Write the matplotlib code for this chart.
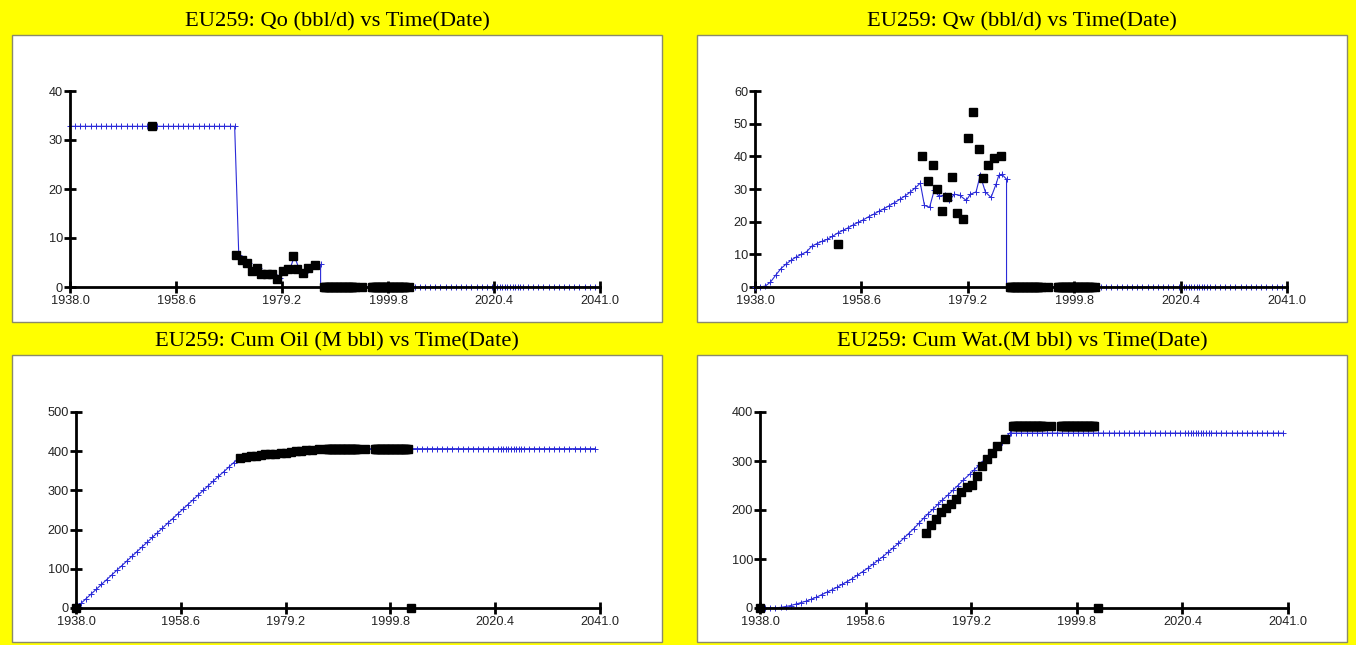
import numpy as np
import matplotlib
matplotlib.use("Agg")
import matplotlib.pyplot as plt
from matplotlib.patches import Rectangle

# ---- data ----------------------------------------------------------------
# model (blue) time steps
years_hist = list(range(1938, 1971))
years_late = [1970.8, 1971.8, 1972.7, 1973.6, 1974.7, 1975.6, 1976.6, 1977.6, 1978.9,
              1979.7, 1980.8, 1981.6, 1982.6, 1983.7, 1984.7, 1985.2, 1985.8, 1986.7]
years_tail = sorted([1986.7, 1987.0] + list(range(1988, 2041)) +
                    [2021.5, 2022.5, 2023.5, 2024.5, 2025.5])
t_model = years_hist + years_late + years_tail
n_tail = len(years_tail)

qo_model = [32.8] * 33 + [6.5, 5.4, 4.8, 3.4, 3.8, 2.6, 2.6, 2.6, 1.8,
                          3.3, 3.8, 6.3, 3.5, 2.8, 3.9, 4.3, 4.6, 4.6] + [0.0] * n_tail
qw_model = [0, 0, 0.3, 1.5, 3.6, 5.6, 7.0, 8.2, 9.2, 10.0, 10.8, 12.5, 13.3, 14.0, 14.6,
            15.5, 16.5, 17.3, 18.1, 19.0, 19.8, 20.6, 21.5, 22.3, 23.2, 24.0, 24.9, 25.8,
            26.8, 27.8, 29.0, 30.3, 31.8] + \
           [25.0, 24.4, 29.6, 27.8, 28.1, 26.5, 28.4, 28.1, 26.5,
            28.4, 29.1, 34.2, 29.1, 27.4, 31.6, 34.2, 34.5, 33.0] + [0.0] * n_tail
cumo_model = [0, 12, 24, 36, 48, 60, 72, 84, 96, 108, 120, 132, 144, 156, 168, 180, 192,
              204, 216, 228, 240, 252, 264, 276, 288, 300, 312, 324, 336, 347, 359, 371, 383] + \
             [385.5, 387.5, 389.2, 390.5, 392, 393, 394, 395, 396,
              397, 398.5, 400, 401.5, 402.8, 404.2, 405, 406, 406.5] + [406.5] * n_tail
cumw_model = [0, 0, 0.1, 0.4, 1.3, 3, 5, 8, 11, 14, 18, 22, 27, 32, 37, 42, 48, 54, 60, 67,
              74, 81, 89, 97, 105, 114, 123, 132, 142, 152, 162, 173, 184] + \
             [192.5, 202, 211.5, 220.5, 231, 240, 250, 260.5, 273,
              281, 292, 301, 312, 323, 333.5, 339.5, 346.5, 357] + [357] * n_tail

# observed (black squares)
obs_mid = [1970.3, 1971.4, 1972.4, 1973.3, 1974.3, 1975.2, 1976.2, 1977.2, 1978.3,
           1979.3, 1980.3, 1981.3, 1982.2, 1983.2, 1984.3, 1985.7]
obs_tail = [1987.3, 1987.55, 1987.8, 1988.05, 1988.3, 1988.55, 1988.8, 1989.05, 1989.3,
            1989.55, 1989.8, 1990.05, 1990.3, 1990.55, 1990.8, 1991.05, 1991.3, 1991.55,
            1991.8, 1992.05, 1992.3, 1992.55, 1992.8, 1993.05, 1993.3, 1994.8,
            1996.7, 1996.95, 1997.2, 1997.45, 1997.7, 1997.95, 1998.2, 1998.45, 1998.7,
            1998.95, 1999.2, 1999.45, 1999.7, 1999.95, 2000.2, 2000.45, 2000.7, 2000.95,
            2001.2, 2001.45, 2001.7, 2001.95, 2002.2, 2002.45, 2002.7, 2002.95, 2003.2]
obs_last = 2003.9
n_obs_tail = len(obs_tail)

qo_obs_mid = [6.5, 5.5, 5.0, 3.3, 3.8, 2.6, 2.6, 2.7, 1.7, 3.3, 3.7, 6.3, 3.6, 2.8, 3.9, 4.5]
qw_obs_mid = [40.1, 32.4, 37.5, 30.1, 23.3, 27.6, 33.7, 22.7, 20.8,
              45.7, 53.6, 42.1, 33.5, 37.2, 39.5, 40.1]
cumo_obs_mid = [383, 385, 387, 389, 390.5, 392, 393, 394, 395,
                396, 397.5, 399.5, 401, 402.5, 404, 406]
cumw_obs_mid = [154, 169, 181, 195, 205, 213, 223, 237, 246,
                252, 269, 289, 305, 316, 330, 344]

rate_obs_t = [1954.0] + obs_mid + obs_tail + [obs_last]
cum_obs_t = [1938.0] + obs_mid + obs_tail + [obs_last]
qo_obs = [32.8] + qo_obs_mid + [0.0] * n_obs_tail + [0.0]
qw_obs = [13.2] + qw_obs_mid + [0.0] * n_obs_tail + [0.0]
cumo_obs = [0.0] + cumo_obs_mid + [406.5] * n_obs_tail + [0.0]
cumw_obs = [0.0] + cumw_obs_mid + [372] * n_obs_tail + [0.0]

xticks = [1938.0, 1958.6, 1979.2, 1999.8, 2020.4, 2041.0]

W, H = 1356, 645
BLUE = '#2a2ad8'

fig = plt.figure(figsize=(W / 100, H / 100), dpi=100, facecolor='#ffff00')


def px_box(x0, y0, x1, y1):
    return [x0 / W, 1 - y1 / H, (x1 - x0) / W, (y1 - y0) / H]


panels = [
    dict(title='EU259: Qo (bbl/d) vs Time(Date)', box=(12, 35, 662, 322),
         ax=(70, 91, 600, 287), t_obs=rate_obs_t, obs=qo_obs, mod=qo_model,
         ylim=40, yticks=[0, 10, 20, 30, 40]),
    dict(title='EU259: Qw (bbl/d) vs Time(Date)', box=(697, 35, 1347, 322),
         ax=(755, 91, 1287, 287), t_obs=rate_obs_t, obs=qw_obs, mod=qw_model,
         ylim=60, yticks=[0, 10, 20, 30, 40, 50, 60]),
    dict(title='EU259: Cum Oil (M bbl) vs Time(Date)', box=(12, 355, 662, 642),
         ax=(76, 412, 600, 608), t_obs=cum_obs_t, obs=cumo_obs, mod=cumo_model,
         ylim=500, yticks=[0, 100, 200, 300, 400, 500]),
    dict(title='EU259: Cum Wat.(M bbl) vs Time(Date)', box=(697, 355, 1347, 642),
         ax=(760, 412, 1288, 608), t_obs=cum_obs_t, obs=cumw_obs, mod=cumw_model,
         ylim=400, yticks=[0, 100, 200, 300, 400]),
]

for p in panels:
    bx = px_box(*p['box'])
    fig.add_artist(Rectangle((bx[0], bx[1]), bx[2], bx[3], transform=fig.transFigure,
                             facecolor='white', edgecolor='#8a8a6a', linewidth=1,
                             zorder=-5))
    fig.text(bx[0] + bx[2] / 2, 1 - (p['box'][1] - 13) / H, p['title'],
             ha='center', va='center', fontsize=16.2, family='Liberation Serif')

    ax = fig.add_axes(px_box(*p['ax']))
    ax.set_facecolor('none')
    ax.plot(t_model, p['mod'], color=BLUE, lw=0.8, marker='+', ms=4, mew=0.7,
            clip_on=False, zorder=3)
    ax.plot(p['t_obs'], p['obs'], ls='none', marker='s', ms=5.2, color='black',
            clip_on=False, zorder=4)
    ax.set_xlim(1938, 2041)
    ax.set_ylim(0, p['ylim'])
    ax.set_xticks(xticks)
    ax.set_xticklabels([f'{v:.1f}' for v in xticks])
    ax.set_yticks(p['yticks'])
    for s in ['top', 'right']:
        ax.spines[s].set_visible(False)
    for s in ['left', 'bottom']:
        ax.spines[s].set_linewidth(2)
        ax.spines[s].set_zorder(5)
    ax.tick_params(axis='x', direction='inout', length=9, width=2, pad=1)
    ax.tick_params(axis='y', direction='inout', length=8, width=2, pad=1)
    for lab in ax.get_xticklabels() + ax.get_yticklabels():
        lab.set_fontfamily('Liberation Sans')
        lab.set_fontsize(9.2)
        lab.set_color('#222222')

fig.savefig('out.png', dpi=100, facecolor=fig.get_facecolor())
